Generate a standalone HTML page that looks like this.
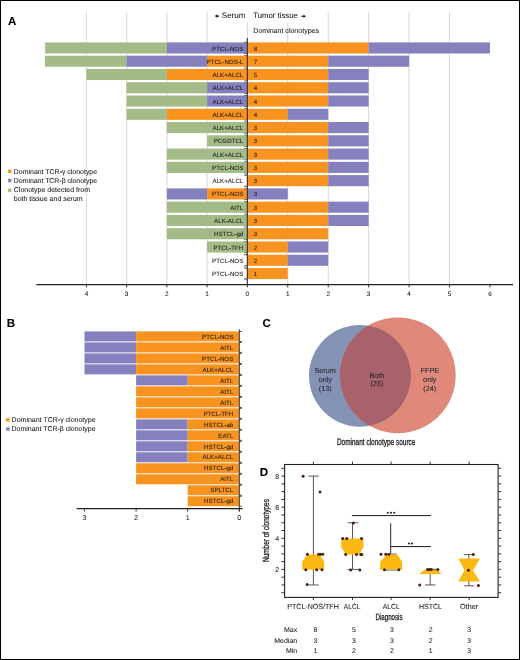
<!DOCTYPE html>
<html><head><meta charset="utf-8"><style>
html,body{margin:0;padding:0;background:#fff;}
body{width:520px;height:660px;overflow:hidden;position:relative;}
svg{position:absolute;left:0;top:0;will-change:transform;}
text{font-family:"Liberation Sans", sans-serif;text-rendering:geometricPrecision;stroke:currentColor;stroke-width:0.08px;}
.frame{position:absolute;left:0;top:0;width:518px;height:658px;border:1px solid #000;pointer-events:none;}
</style></head><body>
<svg width="520" height="660" viewBox="0 0 520 660">
<rect x="0" y="0" width="520" height="660" fill="#fff"/>
<line x1="86.42" y1="12.00" x2="86.42" y2="284.50" stroke="#D3D3D3" stroke-width="0.9"/>
<line x1="126.64" y1="12.00" x2="126.64" y2="284.50" stroke="#D3D3D3" stroke-width="0.9"/>
<line x1="166.86" y1="12.00" x2="166.86" y2="284.50" stroke="#D3D3D3" stroke-width="0.9"/>
<line x1="207.08" y1="12.00" x2="207.08" y2="284.50" stroke="#D3D3D3" stroke-width="0.9"/>
<line x1="328.20" y1="12.00" x2="328.20" y2="284.50" stroke="#D3D3D3" stroke-width="0.9"/>
<line x1="368.65" y1="12.00" x2="368.65" y2="284.50" stroke="#D3D3D3" stroke-width="0.9"/>
<line x1="409.10" y1="12.00" x2="409.10" y2="284.50" stroke="#D3D3D3" stroke-width="0.9"/>
<line x1="449.55" y1="12.00" x2="449.55" y2="284.50" stroke="#D3D3D3" stroke-width="0.9"/>
<line x1="247.30" y1="22.50" x2="247.30" y2="284.50" stroke="#D3D3D3" stroke-width="0.9"/>
<line x1="287.75" y1="22.50" x2="287.75" y2="284.50" stroke="#D3D3D3" stroke-width="0.9"/>
<line x1="244.00" y1="42.40" x2="247.30" y2="42.40" stroke="#231F20" stroke-width="0.8"/>
<line x1="244.00" y1="53.50" x2="247.30" y2="53.50" stroke="#231F20" stroke-width="0.8"/>
<line x1="244.00" y1="55.67" x2="247.30" y2="55.67" stroke="#231F20" stroke-width="0.8"/>
<line x1="244.00" y1="66.77" x2="247.30" y2="66.77" stroke="#231F20" stroke-width="0.8"/>
<line x1="244.00" y1="68.94" x2="247.30" y2="68.94" stroke="#231F20" stroke-width="0.8"/>
<line x1="244.00" y1="80.04" x2="247.30" y2="80.04" stroke="#231F20" stroke-width="0.8"/>
<line x1="244.00" y1="82.21" x2="247.30" y2="82.21" stroke="#231F20" stroke-width="0.8"/>
<line x1="244.00" y1="93.31" x2="247.30" y2="93.31" stroke="#231F20" stroke-width="0.8"/>
<line x1="244.00" y1="95.48" x2="247.30" y2="95.48" stroke="#231F20" stroke-width="0.8"/>
<line x1="244.00" y1="106.58" x2="247.30" y2="106.58" stroke="#231F20" stroke-width="0.8"/>
<line x1="244.00" y1="108.75" x2="247.30" y2="108.75" stroke="#231F20" stroke-width="0.8"/>
<line x1="244.00" y1="119.85" x2="247.30" y2="119.85" stroke="#231F20" stroke-width="0.8"/>
<line x1="244.00" y1="122.02" x2="247.30" y2="122.02" stroke="#231F20" stroke-width="0.8"/>
<line x1="244.00" y1="133.12" x2="247.30" y2="133.12" stroke="#231F20" stroke-width="0.8"/>
<line x1="244.00" y1="135.29" x2="247.30" y2="135.29" stroke="#231F20" stroke-width="0.8"/>
<line x1="244.00" y1="146.39" x2="247.30" y2="146.39" stroke="#231F20" stroke-width="0.8"/>
<line x1="244.00" y1="148.56" x2="247.30" y2="148.56" stroke="#231F20" stroke-width="0.8"/>
<line x1="244.00" y1="159.66" x2="247.30" y2="159.66" stroke="#231F20" stroke-width="0.8"/>
<line x1="244.00" y1="161.83" x2="247.30" y2="161.83" stroke="#231F20" stroke-width="0.8"/>
<line x1="244.00" y1="172.93" x2="247.30" y2="172.93" stroke="#231F20" stroke-width="0.8"/>
<line x1="244.00" y1="175.10" x2="247.30" y2="175.10" stroke="#231F20" stroke-width="0.8"/>
<line x1="244.00" y1="186.20" x2="247.30" y2="186.20" stroke="#231F20" stroke-width="0.8"/>
<line x1="244.00" y1="188.37" x2="247.30" y2="188.37" stroke="#231F20" stroke-width="0.8"/>
<line x1="244.00" y1="199.47" x2="247.30" y2="199.47" stroke="#231F20" stroke-width="0.8"/>
<line x1="244.00" y1="201.64" x2="247.30" y2="201.64" stroke="#231F20" stroke-width="0.8"/>
<line x1="244.00" y1="212.74" x2="247.30" y2="212.74" stroke="#231F20" stroke-width="0.8"/>
<line x1="244.00" y1="214.91" x2="247.30" y2="214.91" stroke="#231F20" stroke-width="0.8"/>
<line x1="244.00" y1="226.01" x2="247.30" y2="226.01" stroke="#231F20" stroke-width="0.8"/>
<line x1="244.00" y1="228.18" x2="247.30" y2="228.18" stroke="#231F20" stroke-width="0.8"/>
<line x1="244.00" y1="239.28" x2="247.30" y2="239.28" stroke="#231F20" stroke-width="0.8"/>
<line x1="244.00" y1="241.45" x2="247.30" y2="241.45" stroke="#231F20" stroke-width="0.8"/>
<line x1="244.00" y1="252.55" x2="247.30" y2="252.55" stroke="#231F20" stroke-width="0.8"/>
<line x1="244.00" y1="254.72" x2="247.30" y2="254.72" stroke="#231F20" stroke-width="0.8"/>
<line x1="244.00" y1="265.82" x2="247.30" y2="265.82" stroke="#231F20" stroke-width="0.8"/>
<line x1="244.00" y1="267.99" x2="247.30" y2="267.99" stroke="#231F20" stroke-width="0.8"/>
<line x1="244.00" y1="279.09" x2="247.30" y2="279.09" stroke="#231F20" stroke-width="0.8"/>
<rect x="45.10" y="42.40" width="121.76" height="11.10" fill="#A3BB86"/>
<rect x="166.86" y="42.40" width="80.44" height="11.10" fill="#8581BF"/>
<rect x="247.30" y="42.40" width="121.35" height="11.10" fill="#F7931E"/>
<rect x="368.65" y="42.40" width="121.35" height="11.10" fill="#8581BF"/>
<text x="243.30" y="50.50" font-size="6.2" text-anchor="end" fill="#231F20" color="#231F20" font-weight="normal">PTCL-NOS</text>
<text x="253.80" y="50.50" font-size="6.2" text-anchor="start" fill="#231F20" color="#231F20" font-weight="normal">8</text>
<rect x="45.10" y="55.67" width="81.54" height="11.10" fill="#A3BB86"/>
<rect x="126.64" y="55.67" width="80.44" height="11.10" fill="#8581BF"/>
<rect x="207.08" y="55.67" width="40.22" height="11.10" fill="#F7931E"/>
<rect x="247.30" y="55.67" width="80.90" height="11.10" fill="#F7931E"/>
<rect x="328.20" y="55.67" width="80.90" height="11.10" fill="#8581BF"/>
<text x="243.30" y="63.77" font-size="6.2" text-anchor="end" fill="#231F20" color="#231F20" font-weight="normal">PTCL-NOS-L</text>
<text x="253.80" y="63.77" font-size="6.2" text-anchor="start" fill="#231F20" color="#231F20" font-weight="normal">7</text>
<rect x="86.42" y="68.94" width="80.44" height="11.10" fill="#A3BB86"/>
<rect x="166.86" y="68.94" width="80.44" height="11.10" fill="#F7931E"/>
<rect x="247.30" y="68.94" width="80.90" height="11.10" fill="#F7931E"/>
<rect x="328.20" y="68.94" width="40.45" height="11.10" fill="#8581BF"/>
<text x="243.30" y="77.04" font-size="6.2" text-anchor="end" fill="#231F20" color="#231F20" font-weight="normal">ALK+ALCL</text>
<text x="253.80" y="77.04" font-size="6.2" text-anchor="start" fill="#231F20" color="#231F20" font-weight="normal">5</text>
<rect x="126.64" y="82.21" width="80.44" height="11.10" fill="#A3BB86"/>
<rect x="207.08" y="82.21" width="40.22" height="11.10" fill="#8581BF"/>
<rect x="247.30" y="82.21" width="80.90" height="11.10" fill="#F7931E"/>
<rect x="328.20" y="82.21" width="40.45" height="11.10" fill="#8581BF"/>
<text x="243.30" y="90.31" font-size="6.2" text-anchor="end" fill="#231F20" color="#231F20" font-weight="normal">ALK+ALCL</text>
<text x="253.80" y="90.31" font-size="6.2" text-anchor="start" fill="#231F20" color="#231F20" font-weight="normal">4</text>
<rect x="126.64" y="95.48" width="80.44" height="11.10" fill="#A3BB86"/>
<rect x="207.08" y="95.48" width="40.22" height="11.10" fill="#8581BF"/>
<rect x="247.30" y="95.48" width="80.90" height="11.10" fill="#F7931E"/>
<rect x="328.20" y="95.48" width="40.45" height="11.10" fill="#8581BF"/>
<text x="243.30" y="103.58" font-size="6.2" text-anchor="end" fill="#231F20" color="#231F20" font-weight="normal">ALK+ALCL</text>
<text x="253.80" y="103.58" font-size="6.2" text-anchor="start" fill="#231F20" color="#231F20" font-weight="normal">4</text>
<rect x="126.64" y="108.75" width="40.22" height="11.10" fill="#A3BB86"/>
<rect x="166.86" y="108.75" width="80.44" height="11.10" fill="#F7931E"/>
<rect x="247.30" y="108.75" width="40.45" height="11.10" fill="#F7931E"/>
<rect x="287.75" y="108.75" width="40.45" height="11.10" fill="#8581BF"/>
<text x="243.30" y="116.85" font-size="6.2" text-anchor="end" fill="#231F20" color="#231F20" font-weight="normal">ALK+ALCL</text>
<text x="253.80" y="116.85" font-size="6.2" text-anchor="start" fill="#231F20" color="#231F20" font-weight="normal">4</text>
<rect x="166.86" y="122.02" width="80.44" height="11.10" fill="#A3BB86"/>
<rect x="247.30" y="122.02" width="80.90" height="11.10" fill="#F7931E"/>
<rect x="328.20" y="122.02" width="40.45" height="11.10" fill="#8581BF"/>
<text x="243.30" y="130.12" font-size="6.2" text-anchor="end" fill="#231F20" color="#231F20" font-weight="normal">ALK+ALCL</text>
<text x="253.80" y="130.12" font-size="6.2" text-anchor="start" fill="#231F20" color="#231F20" font-weight="normal">3</text>
<rect x="207.08" y="135.29" width="40.22" height="11.10" fill="#A3BB86"/>
<rect x="247.30" y="135.29" width="80.90" height="11.10" fill="#F7931E"/>
<rect x="328.20" y="135.29" width="40.45" height="11.10" fill="#8581BF"/>
<text x="243.30" y="143.39" font-size="6.2" text-anchor="end" fill="#231F20" color="#231F20" font-weight="normal">PCGDTCL</text>
<text x="253.80" y="143.39" font-size="6.2" text-anchor="start" fill="#231F20" color="#231F20" font-weight="normal">3</text>
<rect x="166.86" y="148.56" width="80.44" height="11.10" fill="#A3BB86"/>
<rect x="247.30" y="148.56" width="80.90" height="11.10" fill="#F7931E"/>
<rect x="328.20" y="148.56" width="40.45" height="11.10" fill="#8581BF"/>
<text x="243.30" y="156.66" font-size="6.2" text-anchor="end" fill="#231F20" color="#231F20" font-weight="normal">ALK+ALCL</text>
<text x="253.80" y="156.66" font-size="6.2" text-anchor="start" fill="#231F20" color="#231F20" font-weight="normal">3</text>
<rect x="166.86" y="161.83" width="80.44" height="11.10" fill="#A3BB86"/>
<rect x="247.30" y="161.83" width="80.90" height="11.10" fill="#F7931E"/>
<rect x="328.20" y="161.83" width="40.45" height="11.10" fill="#8581BF"/>
<text x="243.30" y="169.93" font-size="6.2" text-anchor="end" fill="#231F20" color="#231F20" font-weight="normal">PTCL-NOS</text>
<text x="253.80" y="169.93" font-size="6.2" text-anchor="start" fill="#231F20" color="#231F20" font-weight="normal">3</text>
<rect x="247.30" y="175.10" width="80.90" height="11.10" fill="#F7931E"/>
<rect x="328.20" y="175.10" width="40.45" height="11.10" fill="#8581BF"/>
<text x="243.30" y="183.20" font-size="6.2" text-anchor="end" fill="#231F20" color="#231F20" font-weight="normal">ALK+ALCL</text>
<text x="253.80" y="183.20" font-size="6.2" text-anchor="start" fill="#231F20" color="#231F20" font-weight="normal">3</text>
<rect x="166.86" y="188.37" width="40.22" height="11.10" fill="#8581BF"/>
<rect x="207.08" y="188.37" width="40.22" height="11.10" fill="#F7931E"/>
<rect x="247.30" y="188.37" width="40.45" height="11.10" fill="#8581BF"/>
<text x="243.30" y="196.47" font-size="6.2" text-anchor="end" fill="#231F20" color="#231F20" font-weight="normal">PTCL-NOS</text>
<text x="253.80" y="196.47" font-size="6.2" text-anchor="start" fill="#231F20" color="#231F20" font-weight="normal">3</text>
<rect x="166.86" y="201.64" width="80.44" height="11.10" fill="#A3BB86"/>
<rect x="247.30" y="201.64" width="80.90" height="11.10" fill="#F7931E"/>
<rect x="328.20" y="201.64" width="40.45" height="11.10" fill="#8581BF"/>
<text x="243.30" y="209.74" font-size="6.2" text-anchor="end" fill="#231F20" color="#231F20" font-weight="normal">AITL</text>
<text x="253.80" y="209.74" font-size="6.2" text-anchor="start" fill="#231F20" color="#231F20" font-weight="normal">3</text>
<rect x="166.86" y="214.91" width="80.44" height="11.10" fill="#A3BB86"/>
<rect x="247.30" y="214.91" width="80.90" height="11.10" fill="#F7931E"/>
<rect x="328.20" y="214.91" width="40.45" height="11.10" fill="#8581BF"/>
<text x="243.30" y="223.01" font-size="6.2" text-anchor="end" fill="#231F20" color="#231F20" font-weight="normal">ALK-ALCL</text>
<text x="253.80" y="223.01" font-size="6.2" text-anchor="start" fill="#231F20" color="#231F20" font-weight="normal">3</text>
<rect x="166.86" y="228.18" width="80.44" height="11.10" fill="#A3BB86"/>
<rect x="247.30" y="228.18" width="80.90" height="11.10" fill="#F7931E"/>
<text x="243.30" y="236.28" font-size="6.2" text-anchor="end" fill="#231F20" color="#231F20" font-weight="normal">HSTCL-gd</text>
<text x="253.80" y="236.28" font-size="6.2" text-anchor="start" fill="#231F20" color="#231F20" font-weight="normal">3</text>
<rect x="207.08" y="241.45" width="40.22" height="11.10" fill="#A3BB86"/>
<rect x="247.30" y="241.45" width="40.45" height="11.10" fill="#F7931E"/>
<rect x="287.75" y="241.45" width="40.45" height="11.10" fill="#8581BF"/>
<text x="243.30" y="249.55" font-size="6.2" text-anchor="end" fill="#231F20" color="#231F20" font-weight="normal">PTCL-TFH</text>
<text x="253.80" y="249.55" font-size="6.2" text-anchor="start" fill="#231F20" color="#231F20" font-weight="normal">2</text>
<rect x="247.30" y="254.72" width="40.45" height="11.10" fill="#F7931E"/>
<rect x="287.75" y="254.72" width="40.45" height="11.10" fill="#8581BF"/>
<text x="243.30" y="262.82" font-size="6.2" text-anchor="end" fill="#231F20" color="#231F20" font-weight="normal">PTCL-NOS</text>
<text x="253.80" y="262.82" font-size="6.2" text-anchor="start" fill="#231F20" color="#231F20" font-weight="normal">2</text>
<rect x="247.30" y="267.99" width="40.45" height="11.10" fill="#F7931E"/>
<text x="243.30" y="276.09" font-size="6.2" text-anchor="end" fill="#231F20" color="#231F20" font-weight="normal">PTCL-NOS</text>
<text x="253.80" y="276.09" font-size="6.2" text-anchor="start" fill="#231F20" color="#231F20" font-weight="normal">1</text>
<line x1="247.30" y1="38.00" x2="247.30" y2="284.60" stroke="#231F20" stroke-width="1"/>
<line x1="36.30" y1="284.60" x2="513.00" y2="284.60" stroke="#231F20" stroke-width="1.1"/>
<line x1="86.42" y1="284.60" x2="86.42" y2="287.40" stroke="#231F20" stroke-width="0.9"/>
<text x="86.42" y="296.30" font-size="6.4" text-anchor="middle" fill="#231F20" color="#231F20" font-weight="normal">4</text>
<line x1="126.64" y1="284.60" x2="126.64" y2="287.40" stroke="#231F20" stroke-width="0.9"/>
<text x="126.64" y="296.30" font-size="6.4" text-anchor="middle" fill="#231F20" color="#231F20" font-weight="normal">3</text>
<line x1="166.86" y1="284.60" x2="166.86" y2="287.40" stroke="#231F20" stroke-width="0.9"/>
<text x="166.86" y="296.30" font-size="6.4" text-anchor="middle" fill="#231F20" color="#231F20" font-weight="normal">2</text>
<line x1="207.08" y1="284.60" x2="207.08" y2="287.40" stroke="#231F20" stroke-width="0.9"/>
<text x="207.08" y="296.30" font-size="6.4" text-anchor="middle" fill="#231F20" color="#231F20" font-weight="normal">1</text>
<line x1="247.30" y1="284.60" x2="247.30" y2="287.40" stroke="#231F20" stroke-width="0.9"/>
<text x="247.30" y="296.30" font-size="6.4" text-anchor="middle" fill="#231F20" color="#231F20" font-weight="normal">0</text>
<line x1="287.75" y1="284.60" x2="287.75" y2="287.40" stroke="#231F20" stroke-width="0.9"/>
<text x="287.75" y="296.30" font-size="6.4" text-anchor="middle" fill="#231F20" color="#231F20" font-weight="normal">1</text>
<line x1="328.20" y1="284.60" x2="328.20" y2="287.40" stroke="#231F20" stroke-width="0.9"/>
<text x="328.20" y="296.30" font-size="6.4" text-anchor="middle" fill="#231F20" color="#231F20" font-weight="normal">2</text>
<line x1="368.65" y1="284.60" x2="368.65" y2="287.40" stroke="#231F20" stroke-width="0.9"/>
<text x="368.65" y="296.30" font-size="6.4" text-anchor="middle" fill="#231F20" color="#231F20" font-weight="normal">3</text>
<line x1="409.10" y1="284.60" x2="409.10" y2="287.40" stroke="#231F20" stroke-width="0.9"/>
<text x="409.10" y="296.30" font-size="6.4" text-anchor="middle" fill="#231F20" color="#231F20" font-weight="normal">4</text>
<line x1="449.55" y1="284.60" x2="449.55" y2="287.40" stroke="#231F20" stroke-width="0.9"/>
<text x="449.55" y="296.30" font-size="6.4" text-anchor="middle" fill="#231F20" color="#231F20" font-weight="normal">5</text>
<line x1="490.00" y1="284.60" x2="490.00" y2="287.40" stroke="#231F20" stroke-width="0.9"/>
<text x="490.00" y="296.30" font-size="6.4" text-anchor="middle" fill="#231F20" color="#231F20" font-weight="normal">6</text>
<rect x="250" y="11" width="74" height="11.5" fill="#fff"/>
<text x="221.80" y="18.20" font-size="8" text-anchor="start" fill="#231F20" color="#231F20" font-weight="normal">Serum</text>
<path d="M214.8 16.1 L217.3 14.3 L217.3 15.6 L219.1 15.6 L219.1 16.7 L217.3 16.7 L217.3 17.9 Z" fill="#231F20"/>
<text x="253.30" y="18.20" font-size="8" text-anchor="start" fill="#231F20" color="#231F20" font-weight="normal" textLength="44.6" lengthAdjust="spacingAndGlyphs">Tumor tissue</text>
<path d="M305.9 16.2 L303.4 14.4 L303.4 15.7 L301.1 15.7 L301.1 16.8 L303.4 16.8 L303.4 18.0 Z" fill="#231F20"/>
<text x="253.30" y="33.10" font-size="7" text-anchor="start" fill="#231F20" color="#231F20" font-weight="normal" textLength="65.7" lengthAdjust="spacingAndGlyphs">Dominant clonotypes</text>
<text x="7.90" y="24.60" font-size="11.5" text-anchor="start" fill="#000" color="#000" font-weight="bold">A</text>
<rect x="8.10" y="169.60" width="3.40" height="3.40" fill="#F7931E"/>
<rect x="8.10" y="178.80" width="3.40" height="3.40" fill="#8581BF"/>
<rect x="8.10" y="188.50" width="3.40" height="3.40" fill="#A3BB86"/>
<text x="13.80" y="173.50" font-size="7" text-anchor="start" fill="#231F20" color="#231F20" font-weight="normal" textLength="83.3" lengthAdjust="spacingAndGlyphs">Dominant TCR-γ clonotype</text>
<text x="13.80" y="182.60" font-size="7" text-anchor="start" fill="#231F20" color="#231F20" font-weight="normal" textLength="83.3" lengthAdjust="spacingAndGlyphs">Dominant TCR-β clonotype</text>
<text x="13.80" y="192.40" font-size="7" text-anchor="start" fill="#231F20" color="#231F20" font-weight="normal">Clonotype detected from</text>
<text x="13.80" y="200.60" font-size="7" text-anchor="start" fill="#231F20" color="#231F20" font-weight="normal">both tissue and serum</text>
<rect x="84.50" y="331.40" width="51.60" height="10.00" fill="#8581BF"/>
<rect x="136.10" y="331.40" width="103.20" height="10.00" fill="#F7931E"/>
<text x="233.30" y="338.60" font-size="6.2" text-anchor="end" fill="#231F20" color="#231F20" font-weight="normal">PTCL-NOS</text>
<line x1="239.30" y1="331.40" x2="241.90" y2="331.40" stroke="#222" stroke-width="0.8"/>
<line x1="239.30" y1="341.40" x2="241.90" y2="341.40" stroke="#222" stroke-width="0.8"/>
<rect x="84.50" y="342.39" width="51.60" height="10.00" fill="#8581BF"/>
<rect x="136.10" y="342.39" width="103.20" height="10.00" fill="#F7931E"/>
<text x="233.30" y="349.59" font-size="6.2" text-anchor="end" fill="#231F20" color="#231F20" font-weight="normal">AITL</text>
<line x1="239.30" y1="342.39" x2="241.90" y2="342.39" stroke="#222" stroke-width="0.8"/>
<line x1="239.30" y1="352.39" x2="241.90" y2="352.39" stroke="#222" stroke-width="0.8"/>
<rect x="84.50" y="353.38" width="51.60" height="10.00" fill="#8581BF"/>
<rect x="136.10" y="353.38" width="103.20" height="10.00" fill="#F7931E"/>
<text x="233.30" y="360.58" font-size="6.2" text-anchor="end" fill="#231F20" color="#231F20" font-weight="normal">PTCL-NOS</text>
<line x1="239.30" y1="353.38" x2="241.90" y2="353.38" stroke="#222" stroke-width="0.8"/>
<line x1="239.30" y1="363.38" x2="241.90" y2="363.38" stroke="#222" stroke-width="0.8"/>
<rect x="84.50" y="364.37" width="51.60" height="10.00" fill="#8581BF"/>
<rect x="136.10" y="364.37" width="103.20" height="10.00" fill="#F7931E"/>
<text x="233.30" y="371.57" font-size="6.2" text-anchor="end" fill="#231F20" color="#231F20" font-weight="normal">ALK+ALCL</text>
<line x1="239.30" y1="364.37" x2="241.90" y2="364.37" stroke="#222" stroke-width="0.8"/>
<line x1="239.30" y1="374.37" x2="241.90" y2="374.37" stroke="#222" stroke-width="0.8"/>
<rect x="136.10" y="375.36" width="51.60" height="10.00" fill="#8581BF"/>
<rect x="187.70" y="375.36" width="51.60" height="10.00" fill="#F7931E"/>
<text x="233.30" y="382.56" font-size="6.2" text-anchor="end" fill="#231F20" color="#231F20" font-weight="normal">AITL</text>
<line x1="239.30" y1="375.36" x2="241.90" y2="375.36" stroke="#222" stroke-width="0.8"/>
<line x1="239.30" y1="385.36" x2="241.90" y2="385.36" stroke="#222" stroke-width="0.8"/>
<rect x="136.10" y="386.35" width="103.20" height="10.00" fill="#F7931E"/>
<text x="233.30" y="393.55" font-size="6.2" text-anchor="end" fill="#231F20" color="#231F20" font-weight="normal">AITL</text>
<line x1="239.30" y1="386.35" x2="241.90" y2="386.35" stroke="#222" stroke-width="0.8"/>
<line x1="239.30" y1="396.35" x2="241.90" y2="396.35" stroke="#222" stroke-width="0.8"/>
<rect x="136.10" y="397.34" width="103.20" height="10.00" fill="#F7931E"/>
<text x="233.30" y="404.54" font-size="6.2" text-anchor="end" fill="#231F20" color="#231F20" font-weight="normal">AITL</text>
<line x1="239.30" y1="397.34" x2="241.90" y2="397.34" stroke="#222" stroke-width="0.8"/>
<line x1="239.30" y1="407.34" x2="241.90" y2="407.34" stroke="#222" stroke-width="0.8"/>
<rect x="136.10" y="408.33" width="103.20" height="10.00" fill="#F7931E"/>
<text x="233.30" y="415.53" font-size="6.2" text-anchor="end" fill="#231F20" color="#231F20" font-weight="normal">PTCL-TFH</text>
<line x1="239.30" y1="408.33" x2="241.90" y2="408.33" stroke="#222" stroke-width="0.8"/>
<line x1="239.30" y1="418.33" x2="241.90" y2="418.33" stroke="#222" stroke-width="0.8"/>
<rect x="136.10" y="419.32" width="51.60" height="10.00" fill="#8581BF"/>
<rect x="187.70" y="419.32" width="51.60" height="10.00" fill="#F7931E"/>
<text x="233.30" y="426.52" font-size="6.2" text-anchor="end" fill="#231F20" color="#231F20" font-weight="normal">HSTCL-ab</text>
<line x1="239.30" y1="419.32" x2="241.90" y2="419.32" stroke="#222" stroke-width="0.8"/>
<line x1="239.30" y1="429.32" x2="241.90" y2="429.32" stroke="#222" stroke-width="0.8"/>
<rect x="136.10" y="430.31" width="51.60" height="10.00" fill="#8581BF"/>
<rect x="187.70" y="430.31" width="51.60" height="10.00" fill="#F7931E"/>
<text x="233.30" y="437.51" font-size="6.2" text-anchor="end" fill="#231F20" color="#231F20" font-weight="normal">EATL</text>
<line x1="239.30" y1="430.31" x2="241.90" y2="430.31" stroke="#222" stroke-width="0.8"/>
<line x1="239.30" y1="440.31" x2="241.90" y2="440.31" stroke="#222" stroke-width="0.8"/>
<rect x="136.10" y="441.30" width="51.60" height="10.00" fill="#8581BF"/>
<rect x="187.70" y="441.30" width="51.60" height="10.00" fill="#F7931E"/>
<text x="233.30" y="448.50" font-size="6.2" text-anchor="end" fill="#231F20" color="#231F20" font-weight="normal">HSTCL-gd</text>
<line x1="239.30" y1="441.30" x2="241.90" y2="441.30" stroke="#222" stroke-width="0.8"/>
<line x1="239.30" y1="451.30" x2="241.90" y2="451.30" stroke="#222" stroke-width="0.8"/>
<rect x="136.10" y="452.29" width="51.60" height="10.00" fill="#8581BF"/>
<rect x="187.70" y="452.29" width="51.60" height="10.00" fill="#F7931E"/>
<text x="233.30" y="459.49" font-size="6.2" text-anchor="end" fill="#231F20" color="#231F20" font-weight="normal">ALK+ALCL</text>
<line x1="239.30" y1="452.29" x2="241.90" y2="452.29" stroke="#222" stroke-width="0.8"/>
<line x1="239.30" y1="462.29" x2="241.90" y2="462.29" stroke="#222" stroke-width="0.8"/>
<rect x="136.10" y="463.28" width="103.20" height="10.00" fill="#F7931E"/>
<text x="233.30" y="470.48" font-size="6.2" text-anchor="end" fill="#231F20" color="#231F20" font-weight="normal">HSTCL-gd</text>
<line x1="239.30" y1="463.28" x2="241.90" y2="463.28" stroke="#222" stroke-width="0.8"/>
<line x1="239.30" y1="473.28" x2="241.90" y2="473.28" stroke="#222" stroke-width="0.8"/>
<rect x="136.10" y="474.27" width="103.20" height="10.00" fill="#F7931E"/>
<text x="233.30" y="481.47" font-size="6.2" text-anchor="end" fill="#231F20" color="#231F20" font-weight="normal">AITL</text>
<line x1="239.30" y1="474.27" x2="241.90" y2="474.27" stroke="#222" stroke-width="0.8"/>
<line x1="239.30" y1="484.27" x2="241.90" y2="484.27" stroke="#222" stroke-width="0.8"/>
<rect x="187.70" y="485.26" width="51.60" height="10.00" fill="#F7931E"/>
<text x="233.30" y="492.46" font-size="6.2" text-anchor="end" fill="#231F20" color="#231F20" font-weight="normal">SPLTCL</text>
<line x1="239.30" y1="485.26" x2="241.90" y2="485.26" stroke="#222" stroke-width="0.8"/>
<line x1="239.30" y1="495.26" x2="241.90" y2="495.26" stroke="#222" stroke-width="0.8"/>
<rect x="187.70" y="496.25" width="51.60" height="10.00" fill="#F7931E"/>
<text x="233.30" y="503.45" font-size="6.2" text-anchor="end" fill="#231F20" color="#231F20" font-weight="normal">HSTCL-gd</text>
<line x1="239.30" y1="496.25" x2="241.90" y2="496.25" stroke="#222" stroke-width="0.8"/>
<line x1="239.30" y1="506.25" x2="241.90" y2="506.25" stroke="#222" stroke-width="0.8"/>
<line x1="239.30" y1="329.20" x2="239.30" y2="511.40" stroke="#1E2535" stroke-width="0.9"/>
<line x1="76.70" y1="508.60" x2="242.60" y2="508.60" stroke="#231F20" stroke-width="1.1"/>
<line x1="84.50" y1="508.60" x2="84.50" y2="511.60" stroke="#231F20" stroke-width="0.9"/>
<text x="84.50" y="520.10" font-size="7" text-anchor="middle" fill="#231F20" color="#231F20" font-weight="normal">3</text>
<line x1="136.10" y1="508.60" x2="136.10" y2="511.60" stroke="#231F20" stroke-width="0.9"/>
<text x="136.10" y="520.10" font-size="7" text-anchor="middle" fill="#231F20" color="#231F20" font-weight="normal">2</text>
<line x1="187.70" y1="508.60" x2="187.70" y2="511.60" stroke="#231F20" stroke-width="0.9"/>
<text x="187.70" y="520.10" font-size="7" text-anchor="middle" fill="#231F20" color="#231F20" font-weight="normal">1</text>
<line x1="239.30" y1="508.60" x2="239.30" y2="511.60" stroke="#231F20" stroke-width="0.9"/>
<text x="239.30" y="520.10" font-size="7" text-anchor="middle" fill="#231F20" color="#231F20" font-weight="normal">0</text>
<text x="6.70" y="327.00" font-size="11.5" text-anchor="start" fill="#000" color="#000" font-weight="bold">B</text>
<rect x="6.20" y="418.10" width="3.40" height="3.40" fill="#F7931E"/>
<rect x="6.20" y="427.30" width="3.40" height="3.40" fill="#8581BF"/>
<text x="11.60" y="422.00" font-size="7" text-anchor="start" fill="#231F20" color="#231F20" font-weight="normal" textLength="84.0" lengthAdjust="spacingAndGlyphs">Dominant TCR-γ clonotype</text>
<text x="11.60" y="431.20" font-size="7" text-anchor="start" fill="#231F20" color="#231F20" font-weight="normal" textLength="84.0" lengthAdjust="spacingAndGlyphs">Dominant TCR-β clonotype</text>
<text x="262.60" y="326.80" font-size="11.5" text-anchor="start" fill="#000" color="#000" font-weight="bold">C</text>
<circle cx="359.9" cy="375.8" r="50.9" fill="#8392B5"/>
<defs><clipPath id="cl"><circle cx="359.9" cy="375.8" r="50.9"/></clipPath></defs>
<circle cx="397.8" cy="375.3" r="57.9" fill="#E0897B"/>
<circle cx="397.8" cy="375.3" r="57.9" fill="#A9626C" clip-path="url(#cl)"/>
<text x="325.20" y="373.10" font-size="7.3" text-anchor="middle" fill="#2B2B2B" color="#2B2B2B" font-weight="normal">Serum</text>
<text x="325.20" y="381.80" font-size="7.3" text-anchor="middle" fill="#2B2B2B" color="#2B2B2B" font-weight="normal">only</text>
<text x="325.20" y="390.50" font-size="7.3" text-anchor="middle" fill="#2B2B2B" color="#2B2B2B" font-weight="normal">(13)</text>
<text x="376.90" y="377.70" font-size="7.3" text-anchor="middle" fill="#2B2B2B" color="#2B2B2B" font-weight="normal">Both</text>
<text x="376.90" y="386.40" font-size="7.3" text-anchor="middle" fill="#2B2B2B" color="#2B2B2B" font-weight="normal">(26)</text>
<text x="429.80" y="373.10" font-size="7.3" text-anchor="middle" fill="#2B2B2B" color="#2B2B2B" font-weight="normal">FFPE</text>
<text x="429.80" y="381.80" font-size="7.3" text-anchor="middle" fill="#2B2B2B" color="#2B2B2B" font-weight="normal">only</text>
<text x="429.80" y="390.50" font-size="7.3" text-anchor="middle" fill="#2B2B2B" color="#2B2B2B" font-weight="normal">(24)</text>
<text x="336.90" y="444.60" font-size="9.3" text-anchor="start" fill="#222" color="#222" font-weight="normal" textLength="78.5" lengthAdjust="spacingAndGlyphs" style="stroke-width:0.3px">Dominant clonotype source</text>
<text x="259.80" y="475.60" font-size="11.5" text-anchor="start" fill="#000" color="#000" font-weight="bold">D</text>
<rect x="284.6" y="464.5" width="213.50" height="132.90" fill="none" stroke="#231F20" stroke-width="1.1"/>
<line x1="281.30" y1="592.73" x2="284.60" y2="592.73" stroke="#231F20" stroke-width="0.9"/>
<line x1="498.10" y1="592.73" x2="501.10" y2="592.73" stroke="#231F20" stroke-width="0.9"/>
<line x1="281.30" y1="584.95" x2="284.60" y2="584.95" stroke="#231F20" stroke-width="0.9"/>
<line x1="498.10" y1="584.95" x2="501.10" y2="584.95" stroke="#231F20" stroke-width="0.9"/>
<line x1="281.30" y1="577.18" x2="284.60" y2="577.18" stroke="#231F20" stroke-width="0.9"/>
<line x1="498.10" y1="577.18" x2="501.10" y2="577.18" stroke="#231F20" stroke-width="0.9"/>
<line x1="281.30" y1="569.40" x2="284.60" y2="569.40" stroke="#231F20" stroke-width="0.9"/>
<line x1="498.10" y1="569.40" x2="501.10" y2="569.40" stroke="#231F20" stroke-width="0.9"/>
<line x1="281.30" y1="561.62" x2="284.60" y2="561.62" stroke="#231F20" stroke-width="0.9"/>
<line x1="498.10" y1="561.62" x2="501.10" y2="561.62" stroke="#231F20" stroke-width="0.9"/>
<line x1="281.30" y1="553.85" x2="284.60" y2="553.85" stroke="#231F20" stroke-width="0.9"/>
<line x1="498.10" y1="553.85" x2="501.10" y2="553.85" stroke="#231F20" stroke-width="0.9"/>
<line x1="281.30" y1="546.08" x2="284.60" y2="546.08" stroke="#231F20" stroke-width="0.9"/>
<line x1="498.10" y1="546.08" x2="501.10" y2="546.08" stroke="#231F20" stroke-width="0.9"/>
<line x1="281.30" y1="538.30" x2="284.60" y2="538.30" stroke="#231F20" stroke-width="0.9"/>
<line x1="498.10" y1="538.30" x2="501.10" y2="538.30" stroke="#231F20" stroke-width="0.9"/>
<line x1="281.30" y1="530.52" x2="284.60" y2="530.52" stroke="#231F20" stroke-width="0.9"/>
<line x1="498.10" y1="530.52" x2="501.10" y2="530.52" stroke="#231F20" stroke-width="0.9"/>
<line x1="281.30" y1="522.75" x2="284.60" y2="522.75" stroke="#231F20" stroke-width="0.9"/>
<line x1="498.10" y1="522.75" x2="501.10" y2="522.75" stroke="#231F20" stroke-width="0.9"/>
<line x1="281.30" y1="514.98" x2="284.60" y2="514.98" stroke="#231F20" stroke-width="0.9"/>
<line x1="498.10" y1="514.98" x2="501.10" y2="514.98" stroke="#231F20" stroke-width="0.9"/>
<line x1="281.30" y1="507.20" x2="284.60" y2="507.20" stroke="#231F20" stroke-width="0.9"/>
<line x1="498.10" y1="507.20" x2="501.10" y2="507.20" stroke="#231F20" stroke-width="0.9"/>
<line x1="281.30" y1="499.43" x2="284.60" y2="499.43" stroke="#231F20" stroke-width="0.9"/>
<line x1="498.10" y1="499.43" x2="501.10" y2="499.43" stroke="#231F20" stroke-width="0.9"/>
<line x1="281.30" y1="491.65" x2="284.60" y2="491.65" stroke="#231F20" stroke-width="0.9"/>
<line x1="498.10" y1="491.65" x2="501.10" y2="491.65" stroke="#231F20" stroke-width="0.9"/>
<line x1="281.30" y1="483.88" x2="284.60" y2="483.88" stroke="#231F20" stroke-width="0.9"/>
<line x1="498.10" y1="483.88" x2="501.10" y2="483.88" stroke="#231F20" stroke-width="0.9"/>
<line x1="281.30" y1="476.10" x2="284.60" y2="476.10" stroke="#231F20" stroke-width="0.9"/>
<line x1="498.10" y1="476.10" x2="501.10" y2="476.10" stroke="#231F20" stroke-width="0.9"/>
<line x1="281.30" y1="468.33" x2="284.60" y2="468.33" stroke="#231F20" stroke-width="0.9"/>
<line x1="498.10" y1="468.33" x2="501.10" y2="468.33" stroke="#231F20" stroke-width="0.9"/>
<text x="277.10" y="571.90" font-size="7" text-anchor="middle" fill="#231F20" color="#231F20" font-weight="normal">2</text>
<text x="277.10" y="540.80" font-size="7" text-anchor="middle" fill="#231F20" color="#231F20" font-weight="normal">4</text>
<text x="277.10" y="509.70" font-size="7" text-anchor="middle" fill="#231F20" color="#231F20" font-weight="normal">6</text>
<text x="277.10" y="478.60" font-size="7" text-anchor="middle" fill="#231F20" color="#231F20" font-weight="normal">8</text>
<line x1="313.40" y1="461.60" x2="313.40" y2="464.50" stroke="#231F20" stroke-width="0.9"/>
<line x1="313.40" y1="597.40" x2="313.40" y2="600.00" stroke="#231F20" stroke-width="0.9"/>
<line x1="352.50" y1="461.60" x2="352.50" y2="464.50" stroke="#231F20" stroke-width="0.9"/>
<line x1="352.50" y1="597.40" x2="352.50" y2="600.00" stroke="#231F20" stroke-width="0.9"/>
<line x1="391.10" y1="461.60" x2="391.10" y2="464.50" stroke="#231F20" stroke-width="0.9"/>
<line x1="391.10" y1="597.40" x2="391.10" y2="600.00" stroke="#231F20" stroke-width="0.9"/>
<line x1="430.20" y1="461.60" x2="430.20" y2="464.50" stroke="#231F20" stroke-width="0.9"/>
<line x1="430.20" y1="597.40" x2="430.20" y2="600.00" stroke="#231F20" stroke-width="0.9"/>
<line x1="469.20" y1="461.60" x2="469.20" y2="464.50" stroke="#231F20" stroke-width="0.9"/>
<line x1="469.20" y1="597.40" x2="469.20" y2="600.00" stroke="#231F20" stroke-width="0.9"/>
<text x="0" y="0" font-size="9.2" text-anchor="middle" fill="#222" color="#222" style="stroke-width:0.3px" transform="translate(269.3 530.6) rotate(-90)" textLength="63" lengthAdjust="spacingAndGlyphs">Number of clonotypes</text>
<line x1="313.40" y1="476.10" x2="313.40" y2="584.95" stroke="#454545" stroke-width="0.9"/>
<line x1="308.50" y1="476.10" x2="318.80" y2="476.10" stroke="#454545" stroke-width="0.9"/>
<line x1="308.50" y1="584.95" x2="318.80" y2="584.95" stroke="#454545" stroke-width="0.9"/>
<line x1="352.50" y1="522.75" x2="352.50" y2="569.40" stroke="#454545" stroke-width="0.9"/>
<line x1="347.60" y1="522.75" x2="358.20" y2="522.75" stroke="#454545" stroke-width="0.9"/>
<line x1="347.60" y1="569.40" x2="360.40" y2="569.40" stroke="#454545" stroke-width="0.9"/>
<line x1="390.70" y1="523.30" x2="390.70" y2="553.85" stroke="#2A2A2A" stroke-width="1.0"/>
<line x1="430.20" y1="569.40" x2="430.20" y2="584.95" stroke="#454545" stroke-width="0.9"/>
<line x1="425.00" y1="584.95" x2="435.50" y2="584.95" stroke="#454545" stroke-width="0.9"/>
<line x1="468.80" y1="554.60" x2="468.80" y2="585.80" stroke="#454545" stroke-width="0.9"/>
<line x1="463.80" y1="554.60" x2="473.30" y2="554.60" stroke="#454545" stroke-width="0.9"/>
<line x1="463.80" y1="585.80" x2="474.20" y2="585.80" stroke="#454545" stroke-width="0.9"/>
<line x1="351.90" y1="515.60" x2="430.80" y2="515.60" stroke="#1A1A1A" stroke-width="1.0"/>
<line x1="390.70" y1="546.60" x2="430.80" y2="546.60" stroke="#1A1A1A" stroke-width="1.0"/>
<ellipse cx="387.80" cy="512.7" rx="1.1" ry="0.95" fill="#2A2A2A"/>
<ellipse cx="391.00" cy="512.7" rx="1.1" ry="0.95" fill="#2A2A2A"/>
<ellipse cx="394.20" cy="512.7" rx="1.1" ry="0.95" fill="#2A2A2A"/>
<ellipse cx="409.05" cy="543.5" rx="1.1" ry="0.95" fill="#2A2A2A"/>
<ellipse cx="411.95" cy="543.5" rx="1.1" ry="0.95" fill="#2A2A2A"/>
<polygon points="307.3,554.4 319.6,554.4 324.2,561.5 324.2,569.8 302.2,569.8 302.2,561.5" fill="#FDB913"/>
<polygon points="341.2,538.6 363.6,538.6 363.6,547 359.2,554.5 345.6,554.5 341.2,547" fill="#FDB913"/>
<polygon points="387.2,554.1 396.8,554.1 402.1,561.4 402.1,569.7 380.1,569.7 380.1,561.4" fill="#FDB913"/>
<line x1="390.80" y1="553.90" x2="396.60" y2="553.90" stroke="#7D8BA6" stroke-width="1.0"/>
<line x1="384.50" y1="570.20" x2="398.90" y2="570.20" stroke="#7484A4" stroke-width="1.0"/>
<polygon points="425.8,569.0 436.5,569.0 441.5,574.0 419.0,574.0" fill="#FDB913"/>
<line x1="425.80" y1="569.30" x2="436.50" y2="569.30" stroke="#4D4D4D" stroke-width="0.8"/>
<polygon points="458.3,558.6 479.9,558.6 473.1,570.3 479.9,581.5 458.3,581.5 464.5,570.3" fill="#FDB913"/>
<line x1="464.50" y1="570.30" x2="473.10" y2="570.30" stroke="#FDD36A" stroke-width="0.8"/>
<circle cx="303.1" cy="476.2" r="1.5" fill="#4A1F0C"/>
<circle cx="320.0" cy="492.0" r="1.5" fill="#4A1F0C"/>
<circle cx="307.2" cy="584.4" r="1.5" fill="#4A1F0C"/>
<circle cx="307.4" cy="554.2" r="1.5" fill="#4A1F0C"/>
<circle cx="318.7" cy="554.2" r="1.5" fill="#4A1F0C"/>
<circle cx="320.6" cy="554.2" r="1.5" fill="#4A1F0C"/>
<circle cx="322.8" cy="554.2" r="1.5" fill="#4A1F0C"/>
<circle cx="305.8" cy="569.8" r="1.5" fill="#4A1F0C"/>
<circle cx="316.7" cy="569.8" r="1.5" fill="#4A1F0C"/>
<circle cx="321.9" cy="569.8" r="1.5" fill="#4A1F0C"/>
<circle cx="353.4" cy="523.0" r="1.5" fill="#4A1F0C"/>
<circle cx="342.6" cy="538.6" r="1.5" fill="#4A1F0C"/>
<circle cx="346.7" cy="538.6" r="1.5" fill="#4A1F0C"/>
<circle cx="361.5" cy="538.6" r="1.5" fill="#4A1F0C"/>
<circle cx="345.6" cy="554.5" r="1.5" fill="#4A1F0C"/>
<circle cx="356.5" cy="554.5" r="1.5" fill="#4A1F0C"/>
<circle cx="360.8" cy="554.5" r="1.5" fill="#4A1F0C"/>
<circle cx="361.8" cy="554.5" r="1.5" fill="#4A1F0C"/>
<circle cx="350.7" cy="569.9" r="1.5" fill="#4A1F0C"/>
<circle cx="359.9" cy="569.9" r="1.5" fill="#4A1F0C"/>
<circle cx="381.0" cy="554.2" r="1.5" fill="#4A1F0C"/>
<circle cx="385.8" cy="554.2" r="1.5" fill="#4A1F0C"/>
<circle cx="388.8" cy="554.2" r="1.5" fill="#4A1F0C"/>
<circle cx="384.5" cy="569.7" r="1.5" fill="#4A1F0C"/>
<circle cx="398.9" cy="569.7" r="1.5" fill="#4A1F0C"/>
<circle cx="427.8" cy="569.4" r="1.5" fill="#4A1F0C"/>
<circle cx="429.5" cy="569.4" r="1.5" fill="#4A1F0C"/>
<circle cx="431.3" cy="569.4" r="1.5" fill="#4A1F0C"/>
<circle cx="437.9" cy="569.4" r="1.5" fill="#4A1F0C"/>
<circle cx="419.7" cy="585.1" r="1.5" fill="#4A1F0C"/>
<circle cx="473.3" cy="554.5" r="1.5" fill="#4A1F0C"/>
<circle cx="468.4" cy="570.3" r="1.5" fill="#4A1F0C"/>
<circle cx="478.4" cy="585.5" r="1.5" fill="#4A1F0C"/>
<text x="313.00" y="608.80" font-size="7.4" text-anchor="middle" fill="#231F20" color="#231F20" font-weight="normal" textLength="51.5" lengthAdjust="spacingAndGlyphs">PTCL-NOS/TFH</text>
<text x="352.10" y="608.80" font-size="7.4" text-anchor="middle" fill="#231F20" color="#231F20" font-weight="normal" textLength="16.5" lengthAdjust="spacingAndGlyphs">ALCL</text>
<text x="391.25" y="608.80" font-size="7.4" text-anchor="middle" fill="#231F20" color="#231F20" font-weight="normal" textLength="17.0" lengthAdjust="spacingAndGlyphs">ALCL</text>
<text x="430.40" y="608.80" font-size="7.4" text-anchor="middle" fill="#231F20" color="#231F20" font-weight="normal" textLength="23.0" lengthAdjust="spacingAndGlyphs">HSTCL</text>
<text x="469.10" y="608.80" font-size="7.4" text-anchor="middle" fill="#231F20" color="#231F20" font-weight="normal" textLength="18.2" lengthAdjust="spacingAndGlyphs">Other</text>
<text x="389.00" y="619.60" font-size="9.2" text-anchor="middle" fill="#222" color="#222" font-weight="normal" textLength="27.0" lengthAdjust="spacingAndGlyphs" style="stroke-width:0.3px">Diagnosis</text>
<text x="297.20" y="631.60" font-size="7.0" text-anchor="end" fill="#231F20" color="#231F20" font-weight="normal">Max</text>
<text x="297.20" y="642.50" font-size="7.0" text-anchor="end" fill="#231F20" color="#231F20" font-weight="normal">Median</text>
<text x="297.20" y="652.70" font-size="7.0" text-anchor="end" fill="#231F20" color="#231F20" font-weight="normal">Min</text>
<text x="315.40" y="631.70" font-size="6.9" text-anchor="middle" fill="#231F20" color="#231F20" font-weight="normal">8</text>
<text x="353.90" y="631.70" font-size="6.9" text-anchor="middle" fill="#231F20" color="#231F20" font-weight="normal">5</text>
<text x="392.00" y="631.70" font-size="6.9" text-anchor="middle" fill="#231F20" color="#231F20" font-weight="normal">3</text>
<text x="430.75" y="631.70" font-size="6.9" text-anchor="middle" fill="#231F20" color="#231F20" font-weight="normal">2</text>
<text x="469.25" y="631.70" font-size="6.9" text-anchor="middle" fill="#231F20" color="#231F20" font-weight="normal">3</text>
<text x="315.40" y="642.60" font-size="6.9" text-anchor="middle" fill="#231F20" color="#231F20" font-weight="normal">3</text>
<text x="353.90" y="642.60" font-size="6.9" text-anchor="middle" fill="#231F20" color="#231F20" font-weight="normal">3</text>
<text x="392.00" y="642.60" font-size="6.9" text-anchor="middle" fill="#231F20" color="#231F20" font-weight="normal">3</text>
<text x="430.75" y="642.60" font-size="6.9" text-anchor="middle" fill="#231F20" color="#231F20" font-weight="normal">2</text>
<text x="469.25" y="642.60" font-size="6.9" text-anchor="middle" fill="#231F20" color="#231F20" font-weight="normal">3</text>
<text x="315.40" y="652.80" font-size="6.9" text-anchor="middle" fill="#231F20" color="#231F20" font-weight="normal">1</text>
<text x="353.90" y="652.80" font-size="6.9" text-anchor="middle" fill="#231F20" color="#231F20" font-weight="normal">2</text>
<text x="392.00" y="652.80" font-size="6.9" text-anchor="middle" fill="#231F20" color="#231F20" font-weight="normal">2</text>
<text x="430.75" y="652.80" font-size="6.9" text-anchor="middle" fill="#231F20" color="#231F20" font-weight="normal">1</text>
<text x="469.25" y="652.80" font-size="6.9" text-anchor="middle" fill="#231F20" color="#231F20" font-weight="normal">3</text>
</svg>
<div class="frame"></div>
</body></html>
